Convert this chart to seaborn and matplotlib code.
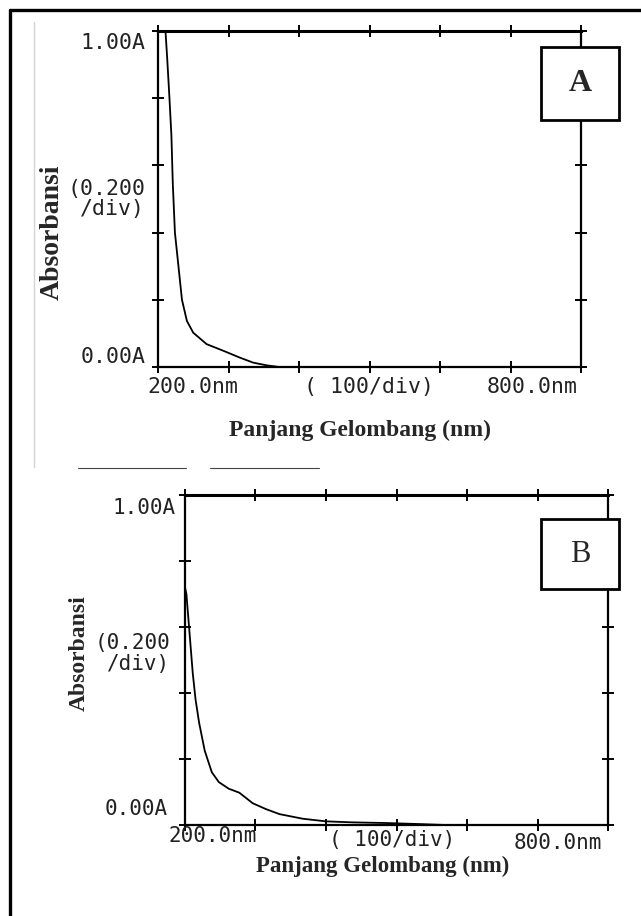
import matplotlib
matplotlib.use('Agg')
import matplotlib.pyplot as plt
from matplotlib import font_manager
from matplotlib.patches import Rectangle
from matplotlib.lines import Line2D
import numpy as np
import seaborn as sns

'''
Data spektrum (dibaca dari gambar)
'''
# Spektrum A
panjang_a = [210, 213, 216, 219, 221, 224, 229, 234, 241, 250, 269, 293, 316, 335, 354, 372, 450, 600, 800]
absorb_a = [1.02, 0.92, 0.81, 0.69, 0.545, 0.40, 0.30, 0.20, 0.137, 0.102, 0.068, 0.048, 0.028,
            0.013, 0.005, 0.0, 0.0, 0.0, 0.0]

# Spektrum B
panjang_b = [200, 202, 205, 208, 211, 215, 220, 228, 238, 248, 262, 277, 296, 315, 334, 367, 400,
             438, 485, 530, 570, 700, 800]
absorb_b = [0.72, 0.70, 0.62, 0.54, 0.46, 0.38, 0.31, 0.225, 0.16, 0.13, 0.11, 0.098, 0.066, 0.048,
            0.033, 0.019, 0.011, 0.008, 0.006, 0.003, 0.0, 0.0, 0.0]

x_ticks = [200, 300, 400, 500, 600, 700, 800]
y_ticks = [0.0, 0.2, 0.4, 0.6, 0.8, 1.0]
label_kiri = ['1.00A', '(0.200\n/div)', '0.00A']
label_bawah = ['200.0nm', '( 100/div)', '800.0nm']

sns.set_style('white')

# font "printer" yang sempit untuk label angka
nama_font = {f.name for f in font_manager.fontManager.ttflist}
if 'Liberation Sans Narrow' in nama_font:
    mono, mono_a, mono_b = 'Liberation Sans Narrow', 19, 18
else:
    mono, mono_a, mono_b = 'DejaVu Sans Mono', 15.5, 15
serif = ['Liberation Serif', 'DejaVu Serif']

W, H = 641, 916
fig = plt.figure(figsize=(W / 100, H / 100), dpi=100)


def fx(px):
    return px / W


def fy(py):
    return 1 - py / H


def panel(kiri, atas, kanan, bawah, x, y, pos, font_lbl, mono_size):
    ax = fig.add_axes([fx(kiri), fy(bawah), fx(kanan - kiri), (bawah - atas) / H])
    sns.lineplot(x=x, y=y, ax=ax, color='black', linewidth=1.3)
    ax.set_xlim(200, 800)
    ax.set_ylim(0, 1)
    ax.set_xticks(x_ticks)
    ax.set_yticks(y_ticks)
    ax.tick_params(direction='inout', length=8, width=1.4, top=True, right=True, bottom=True, left=True,
                   labelbottom=False, labelleft=False, color='black')
    for s in ax.spines.values():
        s.set_visible(True)
        s.set_color('black')
        s.set_linewidth(1.6)
    ax.spines['top'].set_linewidth(2.2)
    ax.set_xlabel('')
    ax.set_ylabel('')

    # label sumbu y
    ax.text(pos['yx'][0], pos['yy'][0], label_kiri[0], transform=ax.transAxes, ha='right', va='top',
            family=mono, fontsize=mono_size, color='#222222')
    ax.text(pos['yx'][1], pos['yy'][1], label_kiri[1], transform=ax.transAxes, ha='right', va='center',
            multialignment='right', family=mono, fontsize=mono_size, color='#222222', linespacing=1.05)
    ax.text(pos['yx'][2], pos['yy'][2], label_kiri[2], transform=ax.transAxes, ha='right', va='baseline',
            family=mono, fontsize=mono_size, color='#222222')
    # label sumbu x
    ax.text(pos['xx'][0], pos['xy'][0], label_bawah[0], transform=ax.transAxes, ha='left', va='top',
            family=mono, fontsize=mono_size, color='#222222')
    ax.text(pos['xx'][1], pos['xy'][1], label_bawah[1], transform=ax.transAxes, ha='center', va='top',
            family=mono, fontsize=mono_size, color='#222222')
    ax.text(pos['xx'][2], pos['xy'][2], label_bawah[2], transform=ax.transAxes, ha='right', va='top',
            family=mono, fontsize=mono_size, color='#222222')

    ax.text(pos['ylab'][0], pos['ylab'][1], 'Absorbansi', transform=ax.transAxes, rotation=90,
            ha='center', va='center', family=serif, fontweight='bold', fontsize=font_lbl[0])
    ax.text(pos['xlab'][0], pos['xlab'][1], 'Panjang Gelombang (nm)', transform=ax.transAxes,
            ha='center', va='center', family=serif, fontweight='bold', fontsize=font_lbl[1])
    return ax


pos_a = {'yx': [-0.03, -0.03, -0.03], 'yy': [0.995, 0.50, 0.012],
         'xx': [-0.026, 0.5, 0.993], 'xy': [-0.03, -0.03, -0.03],
         'ylab': [-0.25, 0.40], 'xlab': [0.478, -0.19]}
pos_b = {'yx': [-0.021, -0.035, -0.04], 'yy': [0.99, 0.52, 0.03],
         'xx': [-0.04, 0.489, 0.986], 'xy': [-0.003, -0.015, -0.024],
         'ylab': [-0.25, 0.52], 'xlab': [0.468, -0.125]}

ax_a = panel(158, 31, 581, 367, panjang_a, absorb_a, pos_a, (20, 17), mono_a)
ax_b = panel(185, 495, 608, 825, panjang_b, absorb_b, pos_b, (17, 16.5), mono_b)

# kotak label A dan B
for (x0, y0, x1, y1, huruf, tebal, ukuran) in [(541, 47, 619, 120, 'A', 'bold', 23),
                                               (541, 519, 619, 589, 'B', 'normal', 22)]:
    fig.add_artist(Rectangle((fx(x0), fy(y1)), fx(x1 - x0), (y1 - y0) / H, transform=fig.transFigure,
                             facecolor='white', edgecolor='black', linewidth=2, zorder=5))
    fig.text(fx((x0 + x1) / 2), fy((y0 + y1) / 2), huruf, ha='center', va='center', family=serif,
             fontweight=tebal, fontsize=ukuran, zorder=6)

# bingkai luar dan sisa tepi hasil scan
fig.add_artist(Line2D([fx(10), fx(10)], [fy(10), fy(916)], transform=fig.transFigure, color='black', lw=2.4))
fig.add_artist(Line2D([fx(10), fx(641)], [fy(10), fy(10)], transform=fig.transFigure, color='black', lw=2.4))
fig.add_artist(Line2D([fx(34), fx(34)], [fy(22), fy(467)], transform=fig.transFigure, color='#d4d4d4', lw=1))
fig.add_artist(Line2D([fx(78), fx(186)], [fy(468), fy(468)], transform=fig.transFigure, color='#444444', lw=0.8))
fig.add_artist(Line2D([fx(210), fx(319)], [fy(468), fy(468)], transform=fig.transFigure, color='#444444', lw=0.8))

fig.savefig('out.png', dpi=100)
